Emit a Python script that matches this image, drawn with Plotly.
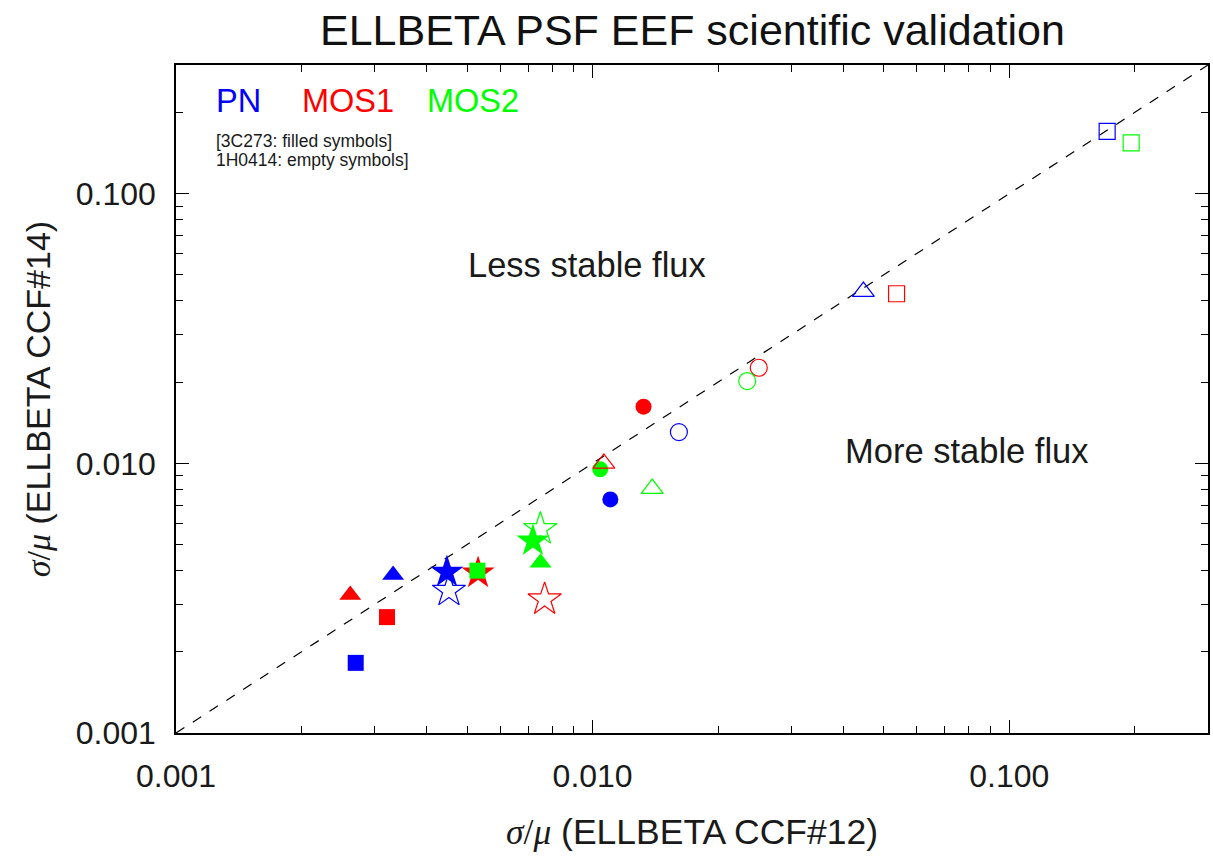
import plotly.graph_objects as go

# ---- data ----
symbols_order = ["square", "triangle", "star", "circle"]

# 3C273: filled symbols  (x = sigma/mu CCF#12, y = sigma/mu CCF#14)
c3_pn_x = [0.00270, 0.00332, 0.00447, 0.01103]
c3_pn_y = [0.00182, 0.00385, 0.00395, 0.00735]
c3_mos1_x = [0.00321, 0.00262, 0.00531, 0.01325]
c3_mos1_y = [0.00269, 0.00325, 0.00392, 0.01622]
c3_mos2_x = [0.00529, 0.00750, 0.00719, 0.01043]
c3_mos2_y = [0.00400, 0.00428, 0.00516, 0.00950]

# 1H0414: empty symbols
h_pn_x = [0.1718, 0.04466, 0.00452, 0.01611]
h_pn_y = [0.1702, 0.04335, 0.00337, 0.01306]
h_mos1_x = [0.05365, 0.01064, 0.00767, 0.02505]
h_mos1_y = [0.04254, 0.00999, 0.00313, 0.02262]
h_mos2_x = [0.1962, 0.01390, 0.00749, 0.02350]
h_mos2_y = [0.1543, 0.00806, 0.00571, 0.02019]

line_x = [0.001, 0.3]
tick_vals = [0.001, 0.01, 0.1]
tick_text = ["0.001", "0.010", "0.100"]
minor_vals = [m * d for d in (0.001, 0.01, 0.1) for m in range(2, 10) if m * d <= 0.3]

# ---- styles ----
colors = {"PN": "#0000FF", "MOS1": "#FF0000", "MOS2": "#00FF00"}
filled_sym = {"square": ("square", 16), "triangle": ("triangle-up", 19),
              "star": ("star", 25), "circle": ("circle", 16)}
open_sym = {"square": ("square-open", 16), "triangle": ("triangle-up-open", 19),
            "star": ("star-open", 25), "circle": ("circle-open", 17)}

FONT = "Liberation Sans, Arial, Helvetica, sans-serif"

fig = go.Figure()

fig.add_trace(go.Scatter(x=line_x, y=line_x, mode="lines",
                         line=dict(color="black", width=1.2, dash="10px,10px"),
                         showlegend=False, hoverinfo="skip"))

filled = {"PN": (c3_pn_x, c3_pn_y), "MOS1": (c3_mos1_x, c3_mos1_y), "MOS2": (c3_mos2_x, c3_mos2_y)}
empty = {"PN": (h_pn_x, h_pn_y), "MOS1": (h_mos1_x, h_mos1_y), "MOS2": (h_mos2_x, h_mos2_y)}

for inst, (xs, ys) in filled.items():
    for i, s in enumerate(symbols_order):
        sym, size = filled_sym[s]
        fig.add_trace(go.Scatter(x=[xs[i]], y=[ys[i]], mode="markers",
                                 marker=dict(symbol=sym, size=size, color=colors[inst],
                                             line=dict(width=0)),
                                 showlegend=False))

for inst, (xs, ys) in empty.items():
    for i, s in enumerate(symbols_order):
        sym, size = open_sym[s]
        fig.add_trace(go.Scatter(x=[xs[i]], y=[ys[i]], mode="markers",
                                 marker=dict(symbol=sym, size=size, color=colors[inst],
                                             line=dict(color=colors[inst], width=1.2)),
                                 showlegend=False))

axis_common = dict(
    type="log", range=[-3, -0.5229], showgrid=False, zeroline=False,
    showline=True, linecolor="black", linewidth=1.5, mirror="ticks",
    ticks="inside", ticklen=13, tickwidth=1.2, tickcolor="black",
    tickmode="array", tickvals=tick_vals, ticktext=tick_text,
    tickfont=dict(family=FONT, size=32, color="#1a1a1a"),
    minor=dict(ticks="inside", ticklen=7, tickwidth=1.2, tickcolor="black",
               tickmode="array", tickvals=minor_vals, showgrid=False),
)

fig.update_layout(
    width=1213, height=856,
    margin=dict(l=176, r=3, t=65, b=123),
    paper_bgcolor="white", plot_bgcolor="white",
    xaxis=dict(axis_common, ticklabelstandoff=14),
    yaxis=dict(axis_common, ticklabelstandoff=12),
    showlegend=False,
)

def ann(text, x, y, size, color="#1a1a1a", xanchor="center", align="center", angle=0):
    fig.add_annotation(text=text, x=x, y=y, xref="paper", yref="paper",
                       xanchor=xanchor, yanchor="middle", showarrow=False, align=align,
                       textangle=angle, font=dict(family=FONT, size=size, color=color))

sig = "<span style=\"font-family:'Liberation Serif', 'Times New Roman', serif\"><i>σ</i>/<i>μ</i></span>"

ann("ELLBETA PSF EEF scientific validation", 0.5, 1.0524, 43, color="#111111")
ann(sig + " (ELLBETA CCF#12)", 0.5, -0.148, 35.5)
ann(sig + " (ELLBETA CCF#14)", -0.1335, 0.5, 34, angle=-90)
ann("Less stable flux", 0.3985, 0.7006, 34.5)
ann("More stable flux", 0.766, 0.4222, 34.5)
ann("PN", 0.0368, 0.9466, 32.5, color=colors["PN"], xanchor="left")
ann("MOS1", 0.1199, 0.9466, 32.5, color=colors["MOS1"], xanchor="left")
ann("MOS2", 0.2408, 0.9466, 32.5, color=colors["MOS2"], xanchor="left")
ann("[3C273: filled symbols]", 0.0368, 0.8862, 17.5, xanchor="left", align="left")
ann("1H0414: empty symbols]", 0.0368, 0.8578, 17.5, xanchor="left", align="left")

fig.write_html("out.html")
